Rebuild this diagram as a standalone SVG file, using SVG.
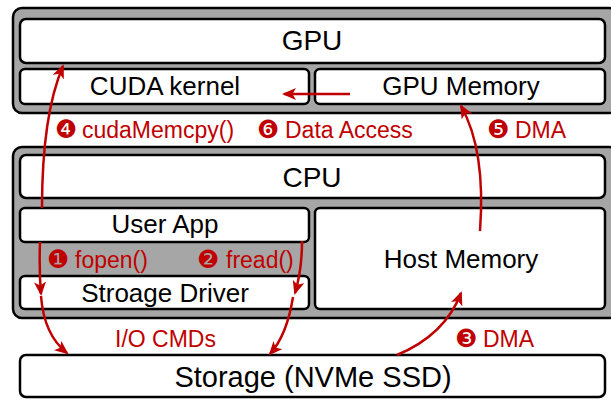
<svg xmlns="http://www.w3.org/2000/svg" width="611" height="399" viewBox="0 0 611 399">
<style>
.outer{fill:#a6a6a6;stroke:#000;stroke-width:2.5}
.box{fill:#fff;stroke:#000;stroke-width:2.5}
.t{font-family:"Liberation Sans","DejaVu Sans",sans-serif;fill:#000;text-anchor:middle}
.r{font-family:"Liberation Sans","DejaVu Sans",sans-serif;fill:#c00000;font-size:23px}
.n{font-family:"DejaVu Sans",sans-serif;font-size:25px}
.a{fill:none;stroke:#c00000;stroke-width:2.5;marker-end:url(#ah)}
</style>
<defs>
<marker id="ah" markerUnits="userSpaceOnUse" markerWidth="14" markerHeight="12" viewBox="0 0 14 12" refX="12" refY="6" orient="auto">
<path d="M0,0 L14,6 L0,12 L3.5,6 z" fill="#c00000"/>
</marker>
</defs>
<rect width="611" height="399" fill="#fff"/>
<g id="gpu">
<rect class="outer" x="13" y="8" width="605" height="105" rx="9"/>
<rect class="box" x="20" y="19" width="585" height="44" rx="6"/>
<text class="t" x="312" y="50" font-size="28">GPU</text>
</g>
<g id="cuda-kernel">
<rect class="box" x="20" y="69" width="289" height="35" rx="5"/>
<text class="t" x="165" y="95" font-size="26">CUDA kernel</text>
</g>
<g id="gpu-memory">
<rect class="box" x="315" y="69" width="290" height="35" rx="5"/>
<text class="t" x="461" y="95" font-size="26">GPU Memory</text>
</g>
<g id="cpu">
<rect class="outer" x="13" y="147" width="605" height="171" rx="9"/>
<rect class="box" x="20" y="155" width="585" height="43" rx="6"/>
<text class="t" x="312" y="187" font-size="28">CPU</text>
</g>
<g id="user-app">
<rect class="box" x="20" y="208" width="289" height="34" rx="5"/>
<text class="t" x="165" y="233" font-size="26">User App</text>
</g>
<g id="storage-driver">
<rect class="box" x="20" y="276" width="289" height="33" rx="5"/>
<text class="t" x="165" y="302" font-size="26">Stroage Driver</text>
</g>
<g id="host-memory">
<rect class="box" x="315" y="208" width="290" height="101" rx="5"/>
<text class="t" x="461" y="268" font-size="26">Host Memory</text>
</g>
<g id="storage">
<rect class="box" x="20" y="355" width="585" height="42" rx="6"/>
<text class="t" x="313" y="387" font-size="29">Storage (NVMe SSD)</text>
</g>
<g id="connectors">
<path class="a" d="M42,208 Q42,115 63,66"/>
<path class="a" d="M350,94 L284,94"/>
<path class="a" d="M480,231 Q486,150 461,106"/>
<path class="a" d="M40,242 Q39,270 41,294"/>
<path class="a" d="M41,296 Q44,335 67,353"/>
<path class="a" d="M302,241 Q302,270 295,293"/>
<path class="a" d="M293,297 Q287,335 270,354"/>
<path class="a" d="M397,355 Q445,335 461,293"/>
</g>
<g id="labels">
<text class="r" y="138"><tspan class="n" x="55">❹</tspan><tspan x="82">cudaMemcpy()</tspan></text>
<text class="r" y="138"><tspan class="n" x="257">❻</tspan><tspan x="285">Data Access</tspan></text>
<text class="r" y="138"><tspan class="n" x="487">❺</tspan><tspan x="515">DMA</tspan></text>
<text class="r" y="268"><tspan class="n" x="47">❶</tspan><tspan x="75">fopen()</tspan></text>
<text class="r" y="268"><tspan class="n" x="197">❷</tspan><tspan x="226">fread()</tspan></text>
<text class="r" y="347" x="115">I/O CMDs</text>
<text class="r" y="347"><tspan class="n" x="455">❸</tspan><tspan x="483">DMA</tspan></text>
</g>
</svg>
